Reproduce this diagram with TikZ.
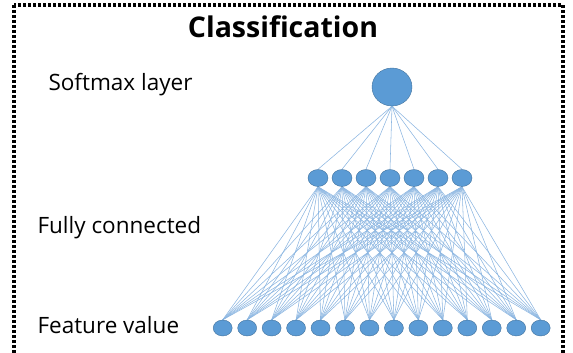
\documentclass[tikz,border=0pt]{standalone}
\usepackage{fontspec}
\setmainfont{Open Sans}[BoldFont={Open Sans Bold}]
\usetikzlibrary{positioning, shapes, backgrounds}

\definecolor{nodeblue}{RGB}{91,155,213}
\definecolor{nodeedge}{RGB}{65,113,156}
\definecolor{linkblue}{RGB}{140,182,225}

\begin{document}
\begin{tikzpicture}[x=1pt, y=-1pt,
    neuron/.style={ellipse, fill=nodeblue, draw=nodeedge, line width=0.4pt,
        minimum width=19pt, minimum height=16pt, inner sep=0pt},
    link/.style={draw=linkblue, line width=0.55pt},
    layername/.style={anchor=west, font=\fontsize{22.5}{26}\selectfont}]
        \useasboundingbox (0,0) rectangle (573,353);
        \draw[line width=3.2pt, dash pattern=on 3pt off 2pt] (14,5) rectangle (563,372);

        \node[font=\bfseries\fontsize{28.5}{32}\selectfont] (title) at (283,27) {Classification};

        \node[layername] (softtxt) at (45,85) {Softmax layer};
        \node[layername] (fctxt) at (34,228) {Fully connected};
        \node[layername] (feattxt) at (34,325) {Feature value};

        % layers
        \node[neuron, minimum width=40pt, minimum height=38pt] (soft) at (392,87) {};
        \foreach \i in {1,...,7}{
                \node[neuron, minimum width=20pt, minimum height=17pt] (fc\i) at ({318+24*(\i-1)},178) {};
            }
        \foreach \j in {1,...,14}{
                \node[neuron] (in\j) at ({222.7+24.46*(\j-1)},328) {};
            }

        \begin{pgfonlayer}{background}
            \foreach \i in {1,...,7}{
                    \draw[link] (fc\i.north) -- (soft.south);
                    \foreach \j in {1,...,14}{
                            \draw[link] (in\j.north) -- (fc\i.south);
                        }
                }
        \end{pgfonlayer}

    \end{tikzpicture}
\end{document}
